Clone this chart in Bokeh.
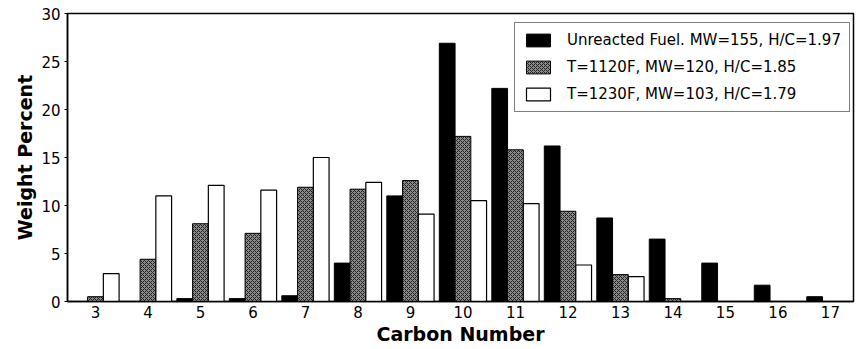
from bokeh.plotting import figure
from bokeh.models import FixedTicker, Legend, LegendItem, ColumnDataSource, Range1d
from bokeh.transform import dodge
from bokeh.embed import file_html
from bokeh.resources import INLINE

carbon = list(range(3, 18))
unreacted = [0, 0, 0.3, 0.3, 0.6, 4.0, 11.0, 26.9, 22.2, 16.2, 8.7, 6.5, 4.0, 1.7, 0.5]
t1120 = [0.5, 4.4, 8.1, 7.1, 11.9, 11.7, 12.6, 17.2, 15.8, 9.4, 2.8, 0.3, 0, 0, 0]
t1230 = [2.9, 11.0, 12.1, 11.6, 15.0, 12.4, 9.1, 10.5, 10.2, 3.8, 2.6, 0, 0, 0, 0]
labels = ["Unreacted Fuel. MW=155, H/C=1.97",
          "T=1120F, MW=120, H/C=1.85",
          "T=1230F, MW=103, H/C=1.79"]

src = ColumnDataSource(dict(c=carbon, u=unreacted, a=t1120, b=t1230))

p = figure(width=856, height=349, output_backend="svg", toolbar_location=None,
           x_range=Range1d(2.467, 17.44), y_range=Range1d(0, 30),
           min_border_left=67, min_border_right=3, min_border_top=13, min_border_bottom=48)
p.background_fill_color = "white"
p.border_fill_color = "white"
p.outline_line_color = "black"
p.outline_line_width = 1.5
p.xgrid.visible = False
p.ygrid.visible = False

w = 0.3
r1 = p.vbar(x=dodge("c", -0.3), top="u", width=w, source=src,
            fill_color="black", line_color="black")
r2 = p.vbar(x="c", top="a", width=w, source=src,
            fill_color="#8a8a8a", line_color="black",
            hatch_pattern="diagonal_cross", hatch_color="#222222",
            hatch_scale=4, hatch_weight=1)
r3 = p.vbar(x=dodge("c", 0.3), top="b", width=w, source=src,
            fill_color="white", line_color="black", line_width=1.2)

font = "DejaVu Sans"
p.xaxis.ticker = FixedTicker(ticks=carbon)
p.yaxis.ticker = FixedTicker(ticks=[0, 5, 10, 15, 20, 25, 30])
for ax in (p.xaxis[0], p.yaxis[0]):
    ax.axis_line_color = "black"
    ax.axis_line_width = 1.5
    ax.major_tick_in = 0
    ax.minor_tick_line_color = None
    ax.major_label_text_font = font
    ax.major_label_text_font_size = "15px"
    ax.major_label_text_color = "black"
    ax.axis_label_text_font = font
    ax.axis_label_text_font_style = "bold"
    ax.axis_label_text_font_size = "19px"
    ax.axis_label_text_color = "black"
    ax.major_label_standoff = 4
    ax.axis_label_standoff = 2
p.xaxis.major_tick_out = 0
p.yaxis.major_tick_out = 3
p.xaxis.axis_label = "Carbon Number"
p.yaxis.axis_label = "Weight Percent"

legend = Legend(items=[LegendItem(label=labels[0], renderers=[r1]),
                       LegendItem(label=labels[1], renderers=[r2]),
                       LegendItem(label=labels[2], renderers=[r3])],
                location=(447, 189))
legend.border_line_color = "black"
legend.border_line_width = 1.5
legend.padding = 8
legend.spacing = 9
legend.glyph_width = 30
legend.glyph_height = 16
legend.label_height = 16
legend.label_standoff = 14
legend.label_text_font = font
legend.label_text_font_size = "15px"
legend.label_text_color = "black"
legend.margin = 0
p.add_layout(legend)

open("out.html", "w").write(file_html(p, INLINE))
